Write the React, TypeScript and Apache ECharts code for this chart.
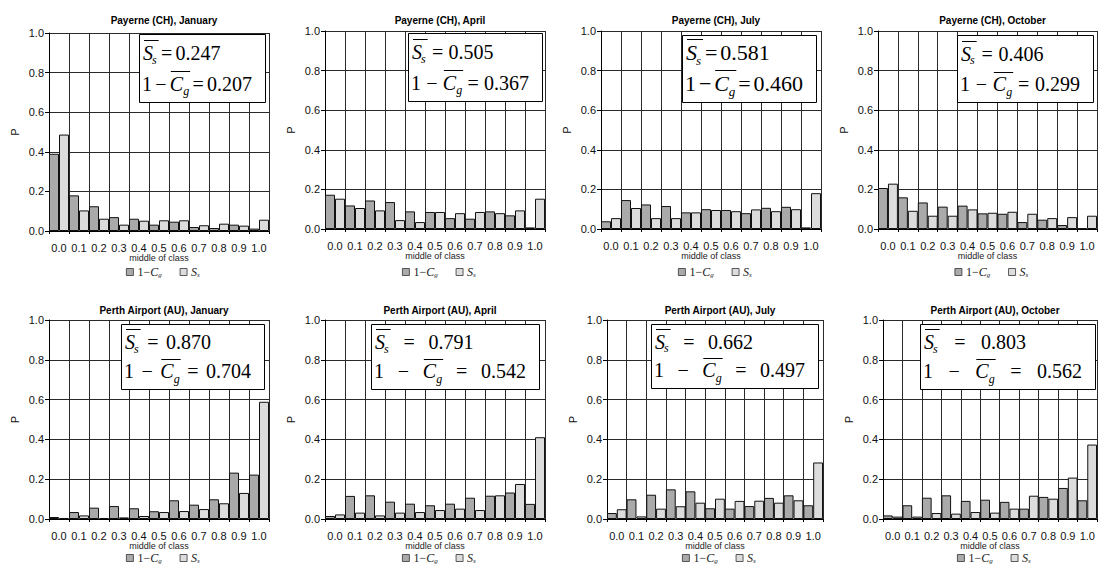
import React, { useEffect, useRef } from 'react';
import * as echarts from 'echarts';

const classes = ['0.0', '0.1', '0.2', '0.3', '0.4', '0.5', '0.6', '0.7', '0.8', '0.9', '1.0'];

const titles = [
  'Payerne (CH), January', 'Payerne (CH), April', 'Payerne (CH), July', 'Payerne (CH), October',
  'Perth Airport (AU), January', 'Perth Airport (AU), April', 'Perth Airport (AU), July', 'Perth Airport (AU), October',
];

const ssMean = ['0.247', '0.505', '0.581', '0.406', '0.870', '0.791', '0.662', '0.803'];
const cgMean = ['0.207', '0.367', '0.460', '0.299', '0.704', '0.542', '0.497', '0.562'];

// 1 - Cg (dark bars)
const payJanCg = [0.39, 0.18, 0.125, 0.07, 0.062, 0.032, 0.047, 0.02, 0.015, 0.032, 0.012];
const payAprCg = [0.173, 0.119, 0.144, 0.136, 0.089, 0.086, 0.055, 0.052, 0.089, 0.069, 0.008];
const payJulCg = [0.039, 0.146, 0.124, 0.116, 0.084, 0.1, 0.096, 0.08, 0.107, 0.112, 0.008];
const payOctCg = [0.207, 0.16, 0.134, 0.113, 0.118, 0.079, 0.077, 0.035, 0.047, 0.02, 0.003];
const perJanCg = [0.01, 0.035, 0.057, 0.065, 0.054, 0.039, 0.094, 0.072, 0.099, 0.233, 0.223];
const perAprCg = [0.015, 0.116, 0.119, 0.087, 0.077, 0.069, 0.077, 0.107, 0.117, 0.133, 0.076];
const perJulCg = [0.03, 0.099, 0.122, 0.149, 0.139, 0.054, 0.052, 0.065, 0.106, 0.119, 0.069];
const perOctCg = [0.018, 0.069, 0.107, 0.119, 0.091, 0.097, 0.086, 0.052, 0.111, 0.156, 0.094];

// Ss (light bars)
const payJanSs = [0.487, 0.104, 0.062, 0.032, 0.052, 0.054, 0.054, 0.029, 0.037, 0.027, 0.057];
const payAprSs = [0.153, 0.106, 0.094, 0.045, 0.035, 0.086, 0.08, 0.086, 0.08, 0.094, 0.153];
const payJulSs = [0.055, 0.106, 0.055, 0.055, 0.084, 0.096, 0.09, 0.099, 0.09, 0.1, 0.181];
const payOctSs = [0.229, 0.092, 0.067, 0.067, 0.099, 0.082, 0.087, 0.077, 0.055, 0.06, 0.067];
const perJanSs = [0.005, 0.018, 0.005, 0.008, 0.015, 0.035, 0.04, 0.05, 0.079, 0.131, 0.589];
const perAprSs = [0.023, 0.032, 0.018, 0.032, 0.035, 0.045, 0.052, 0.045, 0.119, 0.176, 0.411];
const perJulSs = [0.049, 0.013, 0.052, 0.064, 0.082, 0.102, 0.091, 0.092, 0.082, 0.094, 0.284];
const perOctSs = [0.012, 0.012, 0.03, 0.027, 0.035, 0.032, 0.052, 0.117, 0.102, 0.208, 0.374];

const cgSeries = [payJanCg, payAprCg, payJulCg, payOctCg, perJanCg, perAprCg, perJulCg, perOctCg];
const ssSeries = [payJanSs, payAprSs, payJulSs, payOctSs, perJanSs, perAprSs, perJulSs, perOctSs];

// layout (pixels)
const plots = [
  { l: 49, t: 33, w: 220, h: 198 },
  { l: 325, t: 31, w: 220, h: 198 },
  { l: 601, t: 31, w: 220, h: 198 },
  { l: 878, t: 31, w: 219, h: 198 },
  { l: 49, t: 320, w: 220, h: 199 },
  { l: 325, t: 320, w: 220, h: 199 },
  { l: 607, t: 320, w: 216, h: 199 },
  { l: 883, t: 320, w: 214, h: 199 },
];
const boxes = [
  [139, 34, 265, 102],
  [408, 33, 542, 101],
  [682, 35, 816, 102],
  [957, 35, 1093, 102],
  [121, 324, 264, 389],
  [371, 324, 539, 389],
  [651, 324, 818, 388],
  [920, 324, 1095, 389],
];
const boxFont = [20, 20, 22, 20, 20, 20, 20, 20];
const titleY = [17, 17, 17, 17, 307, 307, 307, 307];
const legendY = [266, 266, 266, 266, 552, 552, 552, 552];

const SERIF = '"Liberation Serif", "Times New Roman", serif';
const SANS = '"Liberation Sans", Arial, sans-serif';
const DARK = '#aaaaaa';
const LIGHT = '#dcdcdc';

function buildBox(i: number, ctx: CanvasRenderingContext2D) {
  const [x0, y0, x1, y1] = boxes[i];
  const w = x1 - x0;
  const h = y1 - y0;
  const fs = boxFont[i];
  const sfs = Math.round(fs * 0.6);
  const m = (t: string, italic: boolean, size: number) => {
    ctx.font = `${italic ? 'italic ' : ''}${size}px "Liberation Serif"`;
    return ctx.measureText(t).width;
  };
  const sp = m(' ', false, fs);
  const ss = ssMean[i];
  const cg = cgMean[i];
  const natural2 = m('1', false, fs) + m('\u2212', false, fs) + m('C', true, fs) + m('g', true, sfs) +
    m('=', false, fs) + m(cg, false, fs) + 4 * sp;
  const g = Math.max(-sp + 1, (w - 16 - natural2) / 4);
  const b1 = y0 + h * 0.38;
  const b2 = y0 + h * 0.83;
  const els: any[] = [];
  els.push({
    type: 'rect', z: 100,
    shape: { x: x0 + 0.5, y: y0 + 0.5, width: w, height: h },
    style: { fill: '#fff', stroke: '#000', lineWidth: 1 },
  });
  const txt = (x: number, base: number, text: string, italic: boolean, size: number) => ({
    type: 'text', z: 101, x, y: base - 0.34 * size,
    style: {
      text, fontSize: size, fontFamily: SERIF, fontStyle: italic ? 'italic' : 'normal',
      fill: '#000', align: 'left', verticalAlign: 'middle',
    },
  });
  const bar = (xa: number, xb: number, y: number) => ({
    type: 'line', z: 101,
    shape: { x1: xa, y1: y, x2: xb, y2: y },
    style: { stroke: '#000', lineWidth: 1 },
  });
  // line 1
  let x = x0 + 4;
  const s0 = x;
  els.push(txt(x, b1, 'S', true, fs)); x += m('S', true, fs);
  els.push(txt(x - 1, b1 + 0.2 * fs, 's', true, sfs)); x += m('s', true, sfs);
  els.push(bar(s0 + 1, x + 1, Math.round(b1 - 0.98 * fs) + 0.5));
  x += sp + g;
  els.push(txt(x, b1, '=', false, fs)); x += m('=', false, fs) + sp + g;
  els.push(txt(x, b1, ss, false, fs));
  // line 2
  x = x0 + 3;
  els.push(txt(x, b2, '1', false, fs)); x += m('1', false, fs) + sp + g;
  els.push(txt(x, b2, '\u2212', false, fs)); x += m('\u2212', false, fs) + sp + g;
  const c0 = x;
  els.push(txt(x, b2, 'C', true, fs)); x += m('C', true, fs);
  els.push(txt(x, b2 + 0.25 * fs, 'g', true, sfs)); x += m('g', true, sfs);
  els.push(bar(c0 + 1, x + 1, Math.round(b2 - 0.95 * fs) + 0.5));
  x += sp + g;
  els.push(txt(x, b2, '=', false, fs)); x += m('=', false, fs) + sp + g;
  els.push(txt(x, b2, cg, false, fs));
  return els;
}

export default function App() {
  const ref = useRef<HTMLDivElement>(null);
  useEffect(() => {
    if (!ref.current) return;
    const chart = echarts.init(ref.current, undefined, { renderer: 'svg' });
    const canvas = document.createElement('canvas');
    const ctx = canvas.getContext('2d') as CanvasRenderingContext2D;

    const grid: any[] = [];
    const xAxis: any[] = [];
    const yAxis: any[] = [];
    const series: any[] = [];
    const title: any[] = [];
    const legend: any[] = [];
    let graphic: any[] = [];

    plots.forEach((p, i) => {
      grid.push({ left: p.l, top: p.t, width: p.w, height: p.h, containLabel: false });
      xAxis.push({
        type: 'category', gridIndex: i, data: classes, boundaryGap: true,
        name: 'middle of class', nameLocation: 'middle', nameGap: 21,
        nameTextStyle: { fontSize: 9, fontFamily: SANS, color: '#222' },
        axisLine: { show: true, lineStyle: { color: '#000', width: 1 } },
        axisTick: { show: true, length: 3, lineStyle: { color: '#000' } },
        axisLabel: { interval: 0, fontSize: 11, fontFamily: SANS, color: '#111', margin: 11 },
        splitLine: { show: true, interval: 0, lineStyle: { color: '#2a2a2a', width: 1 } },
      });
      yAxis.push({
        type: 'value', gridIndex: i, min: 0, max: 1, interval: 0.2,
        name: 'P', nameLocation: 'middle', nameGap: 29,
        nameTextStyle: { fontSize: 11, fontFamily: SANS, color: '#111' },
        axisLine: { show: true, lineStyle: { color: '#000', width: 1 } },
        axisTick: { show: true, length: 4, lineStyle: { color: '#000' } },
        axisLabel: { fontSize: 11, fontFamily: SANS, color: '#111', margin: 5, formatter: (v: number) => v.toFixed(1) },
        splitLine: { show: true, lineStyle: { color: '#2a2a2a', width: 1 } },
      });
      series.push({
        type: 'bar', name: '1-Cg', xAxisIndex: i, yAxisIndex: i, data: cgSeries[i],
        barGap: '0%', barCategoryGap: '0%',
        itemStyle: { color: DARK, borderColor: '#111', borderWidth: 1 },
      });
      series.push({
        type: 'bar', name: 'Ss', xAxisIndex: i, yAxisIndex: i, data: ssSeries[i],
        barGap: '0%', barCategoryGap: '0%',
        itemStyle: { color: LIGHT, borderColor: '#111', borderWidth: 1 },
      });
      const cx = p.l + p.w / 2;
      title.push({
        text: titles[i], left: cx, top: titleY[i] - 7, textAlign: 'center',
        textStyle: { fontSize: 10, fontWeight: 'bold', fontFamily: SANS, color: '#000' },
      });
      legend.push({
        data: ['1-Cg', 'Ss'], left: cx - 33, top: legendY[i], itemWidth: 7, itemHeight: 7, itemGap: 18,
        icon: 'rect', selectedMode: false, padding: 0,
        itemStyle: { borderColor: '#333', borderWidth: 0.8 },
        formatter: (n: string) => (n === '1-Cg' ? '{n|1\u2212}{i|C}{s|g}' : '{i|S}{s|s}'),
        textStyle: {
          padding: [0, 0, 0, -1], lineHeight: 12,
          rich: {
            n: { fontFamily: SERIF, fontSize: 12, color: '#222', lineHeight: 12 },
            i: { fontFamily: SERIF, fontSize: 12, fontStyle: 'italic', color: '#222', lineHeight: 12 },
            s: { fontFamily: SERIF, fontSize: 7, fontStyle: 'italic', color: '#222', verticalAlign: 'bottom', lineHeight: 12, padding: [3, 0, 0, 0] },
          },
        },
      });
      graphic = graphic.concat(buildBox(i, ctx));
    });

    chart.setOption({
      animation: false,
      backgroundColor: '#fff',
      title, legend, grid, xAxis, yAxis, series, graphic,
    });
    return () => chart.dispose();
  }, []);
  return <div ref={ref} style={{ position: 'fixed', left: 0, top: 0, width: 1098, height: 565, background: '#fff' }} />;
}
